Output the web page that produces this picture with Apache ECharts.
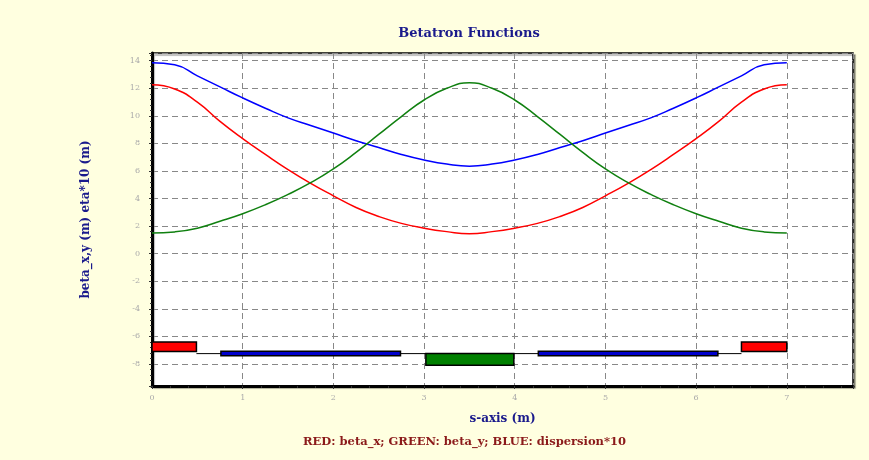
<!DOCTYPE html>
<html>
<head>
<meta charset="utf-8">
<script src="https://cdn.jsdelivr.net/npm/echarts@6/dist/echarts.min.js"></script>
<style>
html,body{margin:0;padding:0;background:#ffffe0;}
#c{width:869px;height:460px;}
</style>
</head>
<body>
<div id="c"></div>
<script>
// ---- data ----
var sPos   = [0,0.25,0.5,0.75,1,1.25,1.5,1.75,2,2.25,2.5,2.75,3,3.25,3.5,3.75,4,4.25,4.5,4.75,5,5.25,5.5,5.75,6,6.25,6.5,6.75,7];
var betaX  = [12.25,11.95,11.0,9.6,8.35,7.2,6.1,5.1,4.2,3.35,2.7,2.2,1.85,1.6,1.45,1.6,1.85,2.2,2.7,3.35,4.2,5.1,6.1,7.2,8.35,9.6,11.0,11.95,12.25];
var betaY  = [1.5,1.58,1.85,2.35,2.9,3.55,4.3,5.15,6.15,7.35,8.65,9.95,11.15,12.0,12.4,12.0,11.15,9.95,8.65,7.35,6.15,5.15,4.3,3.55,2.9,2.35,1.85,1.58,1.5];
var disp10 = [13.85,13.7,12.9,12.1,11.3,10.55,9.85,9.3,8.75,8.2,7.7,7.2,6.8,6.5,6.35,6.5,6.8,7.2,7.7,8.2,8.75,9.3,9.85,10.55,11.3,12.1,12.9,13.7,13.85];

var elemStart = [0, 0.76, 3.02, 4.26, 6.5];
var elemEnd   = [0.49, 2.74, 3.99, 6.24, 7.0];
var elemLow   = [-7.1, -7.4, -8.1, -7.4, -7.1];
var elemHigh  = [-6.4, -7.08, -7.25, -7.08, -6.4];
var elemKind  = ['QF', 'BEND', 'QD', 'BEND', 'QF'];
var baseLineS = [0.49, 6.5];
var baseLineV = -7.25;

var xTicks = ['0','1','2','3','4','5','6','7'];

var titleText = 'Betatron Functions';
var xName = 's-axis (m)';
var yName = 'beta_x,y (m) eta*10 (m)';
var noteText = 'RED: beta_x; GREEN: beta_y; BLUE: dispersion*10';

// ---- styles ----
var kindColor = {QF:'#ff0000', QD:'#008000', BEND:'#0000cc'};

function pairs(xs, ys){ return xs.map(function(x,i){return [x, ys[i]];}); }

var elemData = elemStart.map(function(s,i){
  return [s, elemEnd[i], elemLow[i], elemHigh[i], i];
});

var chart = echarts.init(document.getElementById('c'));
chart.setOption({
  backgroundColor:'#ffffe0',
  animation:false,
  title:{
    text:titleText, left:464, top:22, textAlign:'center',
    textStyle:{color:'#1a1a8c', fontSize:13, fontWeight:'bold', fontFamily:'DejaVu Serif'}
  },
  graphic:[{
    type:'text', left:303, top:436,
    style:{text:noteText, fill:'#8b1a1a', font:'bold 11.5px "DejaVu Serif"'}
  }],
  grid:{left:152, top:53, width:701, height:333, show:true, backgroundColor:'#ffffff',
        borderColor:'#000', borderWidth:1.5,
        shadowColor:'rgba(0,0,0,0.35)', shadowOffsetX:2, shadowOffsetY:2, shadowBlur:1},
  xAxis:{
    type:'value', min:0, max:7.73, interval:1,
    name:xName, nameLocation:'middle', nameGap:27,
    nameTextStyle:{color:'#1a1a8c', fontSize:12, fontWeight:'bold', fontFamily:'DejaVu Serif'},
    axisLine:{show:true, onZero:false, lineStyle:{color:'#000', width:3}},
    axisTick:{show:true, length:3, lineStyle:{color:'#333'}},
    minorTick:{show:true, splitNumber:5, length:2, lineStyle:{color:'#333'}},
    axisLabel:{color:'#aaa', fontSize:8, fontFamily:'DejaVu Serif', margin:8, showMaxLabel:false,
      formatter:function(v){ var k = xTicks.indexOf(String(v)); return k>=0 ? xTicks[k] : ''; }},
    splitLine:{show:true, lineStyle:{color:'#888', type:[6,4], width:1}}
  },
  yAxis:{
    type:'value', min:-9.6, max:14.56, splitNumber:12,
    name:yName, nameLocation:'middle', nameGap:60, nameRotate:90,
    nameTextStyle:{color:'#1a1a8c', fontSize:12, fontWeight:'bold', fontFamily:'DejaVu Serif'},
    axisLine:{show:true, onZero:false, lineStyle:{color:'#000', width:3}},
    axisTick:{show:true, length:3, lineStyle:{color:'#333'}},
    minorTick:{show:true, splitNumber:5, length:2, lineStyle:{color:'#333'}},
    axisLabel:{color:'#aaa', fontSize:8, fontFamily:'DejaVu Serif', margin:12, showMinLabel:false, showMaxLabel:false},
    splitLine:{show:true, lineStyle:{color:'#888', type:[6,4], width:1}}
  },
  series:[
    {type:'line', data:pairs(sPos, disp10), smooth:true, symbol:'none', lineStyle:{color:'#0000ff', width:1.5}, z:5},
    {type:'line', data:pairs(sPos, betaX), smooth:true, symbol:'none', lineStyle:{color:'#ff0000', width:1.5}, z:5},
    {type:'line', data:pairs(sPos, betaY), smooth:true, symbol:'none', lineStyle:{color:'#108010', width:1.5}, z:5},
    {type:'line', data:baseLineS.map(function(s){return [s, baseLineV];}), symbol:'none',
     lineStyle:{color:'#000', width:1}, z:3},
    {type:'custom', z:4, data:elemData,
     renderItem:function(params, api){
       var p1 = api.coord([api.value(0), api.value(3)]);
       var p2 = api.coord([api.value(1), api.value(2)]);
       var kind = elemKind[api.value(4)];
       return {type:'rect', shape:{x:p1[0], y:p1[1], width:p2[0]-p1[0], height:p2[1]-p1[1]},
               style:{fill:kindColor[kind], stroke:'#000', lineWidth:1.5}};
     }}
  ]
});
</script>
</body>
</html>
